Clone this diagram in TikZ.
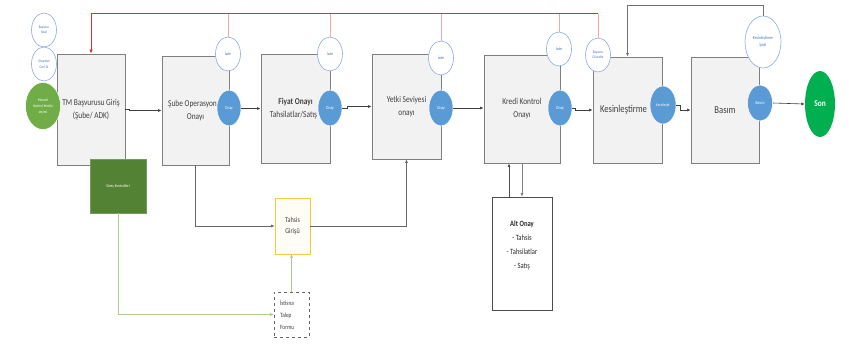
\documentclass[tikz,border=0pt]{standalone}
\usepackage{fontspec}
\setmainfont{Carlito}[FakeStretch=0.82]
\usetikzlibrary{arrows.meta,shapes.geometric}
\definecolor{boxfill}{HTML}{F2F2F2}
\definecolor{boxdraw}{HTML}{7F7F7F}
\definecolor{onayblue}{HTML}{5B9BD5}
\definecolor{iadedraw}{HTML}{8FAADC}
\definecolor{iadetext}{HTML}{4472C4}
\definecolor{redl}{HTML}{D9302C}
\definecolor{pinkl}{HTML}{F2A8A8}
\definecolor{songreen}{HTML}{00B050}
\definecolor{mangreen}{HTML}{70AD47}
\definecolor{surecgreen}{HTML}{548235}
\definecolor{tahsisdraw}{HTML}{F5C842}
\definecolor{tahsisfill}{HTML}{FFFDF6}
\definecolor{txt}{HTML}{404040}
\begin{document}
\begin{tikzpicture}[x=1pt,y=-1pt,
  box/.style={draw=boxdraw, line width=0.9pt, fill=boxfill, inner sep=0pt, align=center, text=txt, font=\fontsize{9}{13}\selectfont},
  onay/.style={ellipse, fill=onayblue, draw=white, line width=0.5pt, minimum width=24pt, minimum height=36pt, inner sep=0pt, text=white, font=\fontsize{4.5}{5}\selectfont},
  iade/.style={ellipse, fill=white, draw=iadedraw, line width=0.6pt, minimum width=25pt, minimum height=34pt, inner sep=0pt, text=iadetext, align=center, font=\fontsize{4.2}{6}\selectfont},
  conn/.style={draw=black!75, line width=0.6pt, -{Latex[length=3.5pt,width=3pt]}},
  greenconn/.style={draw=mangreen, line width=0.6pt, -{Latex[length=3.5pt,width=3pt]}},
  pinkline/.style={draw=pinkl, line width=0.7pt},
  redline/.style={draw=redl, line width=1pt}
]
\useasboundingbox (0,0) rectangle (849,345);
\fill[white] (0,0) rectangle (849,345);

% coordinates for the red / gray top lines
\coordinate (rl) at (91,14);
\coordinate (gt) at (627,5);

% main boxes
\node[box, minimum width=68pt, minimum height=111pt] (tm) at (91,109.5) {TM Başvurusu Giriş\\(Şube/ ADK)};
\node[box, minimum width=67pt, minimum height=109pt] (sube) at (195.5,110.5) {\hspace*{-6pt}Şube Operasyon\\Onayı};
\node[box, minimum width=69pt, minimum height=109pt] (fiyat) at (295.5,108.5) {\textbf{Fiyat Onayı}\\Tahsilatlar/Satış\hspace*{4pt}};
\node[box, minimum width=69pt, minimum height=105pt] (yetki) at (406.5,106.5) {Yetki Seviyesi\\onayı};
\node[box, minimum width=76pt, minimum height=108pt] (kredi) at (522,109) {Kredi Kontrol\\Onayı};
\node[box, minimum width=69pt, minimum height=106pt, font=\fontsize{10.5}{13}\selectfont] (kesin) at (627.5,110) {Kesinleştirme\hspace*{8pt}};
\node[box, minimum width=68pt, minimum height=106pt, font=\fontsize{10.5}{13}\selectfont] (basim) at (725,110) {Basım};

% red iade lines
\node[iade] (siade) at (228,54) {İade};
\node[iade] (fiade) at (330,54) {İade};
\node[iade] (yiade) at (441,58) {İade};
\node[iade] (kiade) at (559,49) {İade};
\node[iade, font=\fontsize{3.8}{5.5}\selectfont] (guncelle) at (598,55) {Başvuru\\Güncelle};
\draw[pinkline] (siade.north) -- (siade.north |- rl);
\draw[pinkline] (fiade.north) -- (fiade.north |- rl);
\draw[pinkline] (yiade.north) -- (yiade.north |- rl);
\draw[pinkline] (kiade.north) -- (kiade.north |- rl);
\draw[pinkline] (guncelle.north) -- (guncelle.north |- rl);
\draw[redline, -{Latex[length=4pt,width=3.5pt]}] (guncelle.north |- rl) -- (rl) -- (tm.north);

% left circles
\node[iade, font=\fontsize{3.8}{5.5}\selectfont] (iptal) at (44,30) {Başvuru\\İptal};
\node[iade, font=\fontsize{3.8}{5.5}\selectfont] (geri) at (44,64) {Onaydan\\Geri Al};
\node[ellipse, fill=mangreen, draw=white, line width=0.5pt, minimum width=35pt, minimum height=47pt, inner sep=0pt, text=white, align=center, font=\fontsize{4}{6}\selectfont] (manuel) at (43,106) {Manuel\\Kontrol Kredisi\\seçimi};

% onay circles
\node[onay] (sonay) at (229,108) {Onay};
\node[onay] (fonay) at (330,108) {Onay};
\node[onay] (yonay) at (441,108) {Onay};
\node[onay] (konay) at (560,108) {Onay};
\node[onay, minimum width=26pt, minimum height=38pt, font=\fontsize{4}{5}\selectfont] (kesonay) at (663,105) {Kesinleştir};
\node[onay, minimum width=25pt] (bonay) at (760,103) {Basım};

% kesinlestirme iptal
\node[iade, minimum width=36pt, minimum height=52pt, font=\fontsize{4.5}{6.5}\selectfont] (kiptal) at (763,42) {Kesinleştirme\\İptal};
\draw[conn, draw=black!55] (kiptal.north) -- (kiptal.north |- gt) -| (kesin.north);

% son
\node[ellipse, fill=songreen, minimum width=30pt, minimum height=66pt, inner sep=0pt, text=white, font=\bfseries\fontsize{9}{11}\selectfont] (son) at (820,104) {Son};

% main flow connectors
\draw[conn] (tm.east) -- ++(4,0) |- (sube.west);
\draw[conn] (sonay.east) -- ++(5,0) |- (fiyat.west);
\draw[conn] (fonay.east) -- ++(5,0) |- (yetki.west);
\draw[conn] (yonay.east) -- (kredi.west |- yonay.east);
\draw[conn] (konay.east) -- ++(3,0) |- (kesin.west);
\draw[conn] (kesonay.east) -- ++(4,0) |- (basim.west);
\draw[conn] (bonay.east) -- (son.west);

% lower part
\node[fill=surecgreen, draw=surecgreen!80!white, minimum width=56pt, minimum height=54pt, inner sep=0pt, text=white, font=\fontsize{4.2}{5}\selectfont] (surec) at (118,186) {Süreç Kontrolleri};
\node[draw=tahsisdraw, fill=tahsisfill, line width=0.7pt, minimum width=35pt, minimum height=56pt, inner sep=0pt, align=center, text=txt, font=\fontsize{7.5}{11}\selectfont] (tahsis) at (292.5,226) {Tahsis\\Girişü};
\node[draw=black!60, dashed, fill=white, line width=0.6pt, minimum width=35pt, minimum height=45pt, inner sep=0pt, align=left, text=txt, font=\fontsize{6.5}{12}\selectfont] (istisna) at (291.5,314.5) {İstisna\hspace*{9pt}\\Talep\\Formu};
\node[draw=black!70, fill=white, line width=0.6pt, minimum width=60pt, minimum height=113pt, inner sep=0pt, align=center, text=black!85, font=\fontsize{8}{14}\selectfont] (alt) at (522,253.5) {\textbf{Alt Onay}\\- Tahsis\\- Tahsilatlar\\- Satış\\[4pt]};

\draw[conn, draw=black!60] (sube.south) |- (tahsis.west);
\draw[conn, draw=black!60] (tahsis.east) -| (yetki.south);
\draw[greenconn, draw=mangreen!60] (surec.south) |- (istisna.west);
\draw[greenconn, draw=mangreen!60] (istisna.north) -- (istisna.north |- tahsis.south);

\coordinate (au) at ([xshift=-13pt]alt.north);
\coordinate (ad) at ([xshift=0pt]alt.north);
\draw[conn, draw=black!70] (au) -- (au |- kredi.south);
\draw[conn, draw=black!50] (ad |- kredi.south) -- (ad);
\end{tikzpicture}
\end{document}
